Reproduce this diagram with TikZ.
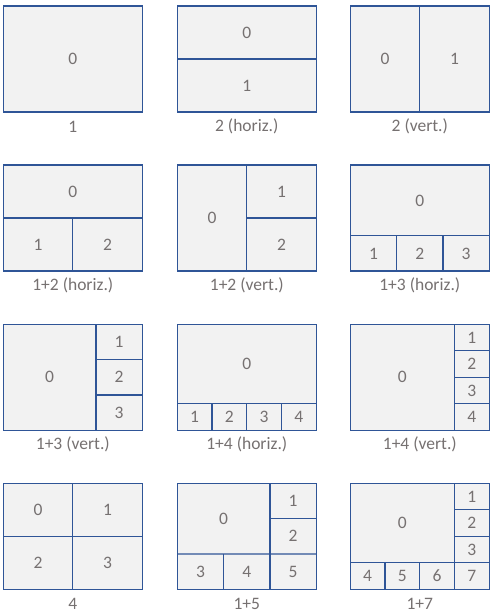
\documentclass[tikz,border=0pt]{standalone}
\usepackage{fontspec}
\setmainfont{Carlito}
\definecolor{edge}{HTML}{2F5597}
\definecolor{cellfill}{HTML}{F2F2F2}
\definecolor{txt}{HTML}{767171}
\newcommand\PW{139}
\newcommand\PH{106}
\newcommand\cellbox[6]{\node[cellst, minimum width={(#4-#2)*\PW}, minimum height={(#5-#3)*\PH}] (#1) at ({(#2+#4)/2*\PW},{-(#3+#5)/2*\PH}) {#6};}
\newcommand\panelframe[1]{\node[framest, minimum width=\PW, minimum height=\PH] (#1) at ({\PW/2},{-\PH/2}) {};}
\newcommand\panellabel[2]{\node[labst] (#1) at ({\PW/2},{-\PH-14.5}) {#2};}
\begin{document}
\begin{tikzpicture}[x=1pt,y=1pt,
  framest/.style={draw=edge, fill=cellfill, line width=1.3pt, inner sep=0pt, outer sep=0pt},
  cellst/.style={inner sep=0pt, outer sep=0pt, text=txt, font=\fontsize{17.5}{20}\selectfont},
  divst/.style={draw=edge, line width=1.3pt},
  labst/.style={text=txt, inner sep=0pt, font=\fontsize{17.5}{20}\selectfont}]
\fill[white] (0,0) rectangle (495,-615);
\useasboundingbox (0,0) rectangle (495,-615);
% row 1
\begin{scope}[shift={(3.3,-6)}]
\panelframe{af}
\cellbox{a0}{0}{0}{1}{1}{0}
\panellabel{la}{1}
\end{scope}
\begin{scope}[shift={(177.3,-6)}]
\panelframe{bf}
\cellbox{b0}{0}{0}{1}{.5}{0}
\cellbox{b1}{0}{.5}{1}{1}{1}
\draw[divst] (b0.south west) -- (b0.south east);
\panellabel{lb}{2 (horiz.)}
\end{scope}
\begin{scope}[shift={(350.3,-6)}]
\panelframe{cf}
\cellbox{c0}{0}{0}{.5}{1}{0}
\cellbox{c1}{.5}{0}{1}{1}{1}
\draw[divst] (c0.north east) -- (c0.south east);
\panellabel{lc}{2 (vert.)}
\end{scope}
% row 2
\begin{scope}[shift={(3.3,-165.1)}]
\panelframe{df}
\cellbox{d0}{0}{0}{1}{.5}{0}
\cellbox{d1}{0}{.5}{.5}{1}{1}
\cellbox{d2}{.5}{.5}{1}{1}{2}
\draw[divst] (d0.south west) -- (d0.south east);
\draw[divst] (d1.north east) -- (d1.south east);
\panellabel{ld}{1+2 (horiz.)}
\end{scope}
\begin{scope}[shift={(177.3,-165.1)}]
\panelframe{ef}
\cellbox{e0}{0}{0}{.5}{1}{0}
\cellbox{e1}{.5}{0}{1}{.5}{1}
\cellbox{e2}{.5}{.5}{1}{1}{2}
\draw[divst] (e0.north east) -- (e0.south east);
\draw[divst] (e1.south west) -- (e1.south east);
\panellabel{le}{1+2 (vert.)}
\end{scope}
\begin{scope}[shift={(350.3,-165.1)}]
\panelframe{ff}
\cellbox{f0}{0}{0}{1}{2/3}{0}
\cellbox{f1}{0}{2/3}{1/3}{1}{1}
\cellbox{f2}{1/3}{2/3}{2/3}{1}{2}
\cellbox{f3}{2/3}{2/3}{1}{1}{3}
\draw[divst] (f0.south west) -- (f0.south east);
\draw[divst] (f1.north east) -- (f1.south east);
\draw[divst] (f2.north east) -- (f2.south east);
\panellabel{lf}{1+3 (horiz.)}
\end{scope}
% row 3
\begin{scope}[shift={(3.3,-324.3)}]
\panelframe{gf}
\cellbox{g0}{0}{0}{2/3}{1}{0}
\cellbox{g1}{2/3}{0}{1}{1/3}{1}
\cellbox{g2}{2/3}{1/3}{1}{2/3}{2}
\cellbox{g3}{2/3}{2/3}{1}{1}{3}
\draw[divst] (g0.north east) -- (g0.south east);
\draw[divst] (g1.south west) -- (g1.south east);
\draw[divst] (g2.south west) -- (g2.south east);
\panellabel{lg}{1+3 (vert.)}
\end{scope}
\begin{scope}[shift={(177.3,-324.3)}]
\panelframe{hf}
\cellbox{h0}{0}{0}{1}{.75}{0}
\cellbox{h1}{0}{.75}{.25}{1}{1}
\cellbox{h2}{.25}{.75}{.5}{1}{2}
\cellbox{h3}{.5}{.75}{.75}{1}{3}
\cellbox{h4}{.75}{.75}{1}{1}{4}
\draw[divst] (h0.south west) -- (h0.south east);
\draw[divst] (h1.north east) -- (h1.south east);
\draw[divst] (h2.north east) -- (h2.south east);
\draw[divst] (h3.north east) -- (h3.south east);
\panellabel{lh}{1+4 (horiz.)}
\end{scope}
\begin{scope}[shift={(350.3,-324.3)}]
\panelframe{if}
\cellbox{i0}{0}{0}{.75}{1}{0}
\cellbox{i1}{.75}{0}{1}{.25}{1}
\cellbox{i2}{.75}{.25}{1}{.5}{2}
\cellbox{i3}{.75}{.5}{1}{.75}{3}
\cellbox{i4}{.75}{.75}{1}{1}{4}
\draw[divst] (i0.north east) -- (i0.south east);
\draw[divst] (i1.south west) -- (i1.south east);
\draw[divst] (i2.south west) -- (i2.south east);
\draw[divst] (i3.south west) -- (i3.south east);
\panellabel{li}{1+4 (vert.)}
\end{scope}
% row 4
\begin{scope}[shift={(3.3,-483.3)}]
\panelframe{jf}
\cellbox{j0}{0}{0}{.5}{.5}{0}
\cellbox{j1}{.5}{0}{1}{.5}{1}
\cellbox{j2}{0}{.5}{.5}{1}{2}
\cellbox{j3}{.5}{.5}{1}{1}{3}
\draw[divst] (j0.north east) -- (j2.south east);
\draw[divst] (j0.south west) -- (j1.south east);
\panellabel{lj}{4}
\end{scope}
\begin{scope}[shift={(177.3,-483.3)}]
\panelframe{kf}
\cellbox{k0}{0}{0}{2/3}{2/3}{0}
\cellbox{k1}{2/3}{0}{1}{1/3}{1}
\cellbox{k2}{2/3}{1/3}{1}{2/3}{2}
\cellbox{k3}{0}{2/3}{1/3}{1}{3}
\cellbox{k4}{1/3}{2/3}{2/3}{1}{4}
\cellbox{k5}{2/3}{2/3}{1}{1}{5}
\draw[divst] (k0.north east) -- (k0.south east);
\draw[divst] (k1.south west) -- (k1.south east);
\draw[divst] (k0.south west) -- (k2.south east);
\draw[divst] (k3.north east) -- (k3.south east);
\draw[divst] (k4.north east) -- (k4.south east);
\panellabel{lk}{1+5}
\end{scope}
\begin{scope}[shift={(350.3,-483.3)}]
\panelframe{mf}
\cellbox{m0}{0}{0}{.75}{.75}{0}
\cellbox{m1}{.75}{0}{1}{.25}{1}
\cellbox{m2}{.75}{.25}{1}{.5}{2}
\cellbox{m3}{.75}{.5}{1}{.75}{3}
\cellbox{m4}{0}{.75}{.25}{1}{4}
\cellbox{m5}{.25}{.75}{.5}{1}{5}
\cellbox{m6}{.5}{.75}{.75}{1}{6}
\cellbox{m7}{.75}{.75}{1}{1}{7}
\draw[divst] (m0.north east) -- (m0.south east);
\draw[divst] (m1.south west) -- (m1.south east);
\draw[divst] (m2.south west) -- (m2.south east);
\draw[divst] (m0.south west) -- (m3.south east);
\draw[divst] (m4.north east) -- (m4.south east);
\draw[divst] (m5.north east) -- (m5.south east);
\draw[divst] (m6.north east) -- (m6.south east);
\panellabel{lm}{1+7}
\end{scope}
\end{tikzpicture}
\end{document}
